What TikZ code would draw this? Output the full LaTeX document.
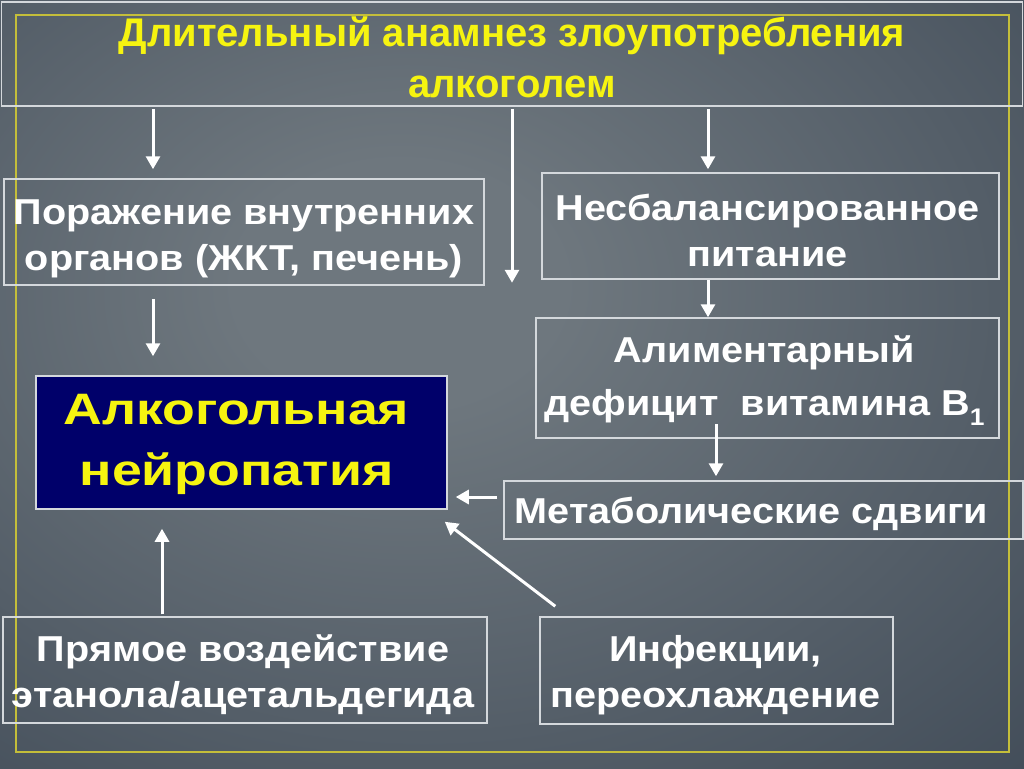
\documentclass[tikz,border=0pt]{standalone}
\usepackage{fontspec}
\setmainfont{Liberation Sans}
\newfontfamily\wfont{Liberation Sans}[FakeStretch=1.1]
\newfontfamily\tfont{Liberation Sans}[FakeStretch=1.0]
\newfontfamily\nfont{Liberation Sans}[FakeStretch=1.22]
\usetikzlibrary{arrows.meta}
\definecolor{bgc}{HTML}{6E777E}
\definecolor{bgm}{HTML}{3A4552}
\definecolor{bge}{HTML}{131D2B}
\definecolor{frameyel}{HTML}{C4BE3A}
\definecolor{boxline}{HTML}{D4D8DC}
\definecolor{titleyel}{HTML}{F6F410}
\definecolor{navy}{HTML}{00006A}
\pgfdeclareradialshading{bgshade}{\pgfpoint{-6bp}{7bp}}{color(0bp)=(bgc); color(8bp)=(bgc); color(48bp)=(bgm); color(74bp)=(bge); color(100bp)=(bge)}
\tikzset{
  wbox/.style={draw=boxline, line width=1.5pt, inner sep=0pt},
  wtext/.style={inner sep=0pt, align=center, text=white,
    font=\wfont\bfseries\fontsize{36}{46}\selectfont},
  arr/.style={draw=white, line width=3pt, -{Triangle[length=13pt,width=14pt]}},
}
\begin{document}
\begin{tikzpicture}[x=1pt,y=-1pt]
\useasboundingbox (0,0) rectangle (1024,768);
\shade[shading=bgshade] (0,0) rectangle (1024,768);
\draw[frameyel, line width=2pt] (16,15) rectangle (1009,752);

% boxes
\node[wbox, minimum width=1021pt, minimum height=104pt] (title) at (512,54) {};
\node[wbox, minimum width=480pt, minimum height=106pt] (porazh) at (244,232) {};
\node[wbox, minimum width=457pt, minimum height=106pt] (nesb) at (770.5,226) {};
\node[wbox, minimum width=463pt, minimum height=120pt] (alim) at (767.5,378) {};
\node[wbox, minimum width=519pt, minimum height=58pt] (metab) at (763.5,510) {};
\node[wbox, fill=navy, minimum width=411pt, minimum height=133pt] (neuro) at (241.5,442.5) {};
\node[wbox, minimum width=484pt, minimum height=106pt] (pryam) at (245,670) {};
\node[wbox, minimum width=353pt, minimum height=107pt] (infek) at (716.5,670.5) {};

% texts
\node[wtext, text=titleyel, font=\tfont\bfseries\fontsize{40}{51}\selectfont] (titleT)
  at ([shift={(0,3)}]title.center) {Длительный анамнез злоупотребления\\алкоголем};
\node[wtext] (porazhT) at ([shift={(0,6.5)}]porazh.center)
  {Поражение внутренних\\органов (ЖКТ, печень)};
\node[wtext] (nesbT) at ([shift={(-3,4)}]nesb.center)
  {Несбалансированное\\питание};
\node[wtext, font=\wfont\bfseries\fontsize{36}{52}\selectfont] (alimT) at ([shift={(-3,3)}]alim.center)
  {Алиментарный\\дефицит~ витамина B\raisebox{-0.3em}{\fontsize{24}{24}\selectfont 1}};
\node[wtext] (metabT) at ([shift={(-12,4)}]metab.center)
  {Метаболические сдвиги};
\node[wtext, text=titleyel, font=\nfont\bfseries\fontsize{44}{61}\selectfont] (neuroT)
  at ([shift={(-5,2)}]neuro.center) {Алкогольная\\нейропатия};
\node[wtext] (pryamT) at ([shift={(-2,5)}]pryam.center)
  {Прямое воздействие\\этанола/ацетальдегида};
\node[wtext] (infekT) at ([shift={(-1,5)}]infek.center)
  {Инфекции,\\переохлаждение};

\coordinate (xa) at (153,0);
\coordinate (xb) at (512,0);
\coordinate (xc) at (708,0);
\coordinate (xf) at (716,0);
\coordinate (xi) at (162,0);
\coordinate (yg) at (0,497);

\draw[arr, shorten <=2pt, shorten >=9pt] (title.south -| xa) -- (porazh.north -| xa);
\draw[arr, shorten <=2pt, shorten >=3pt] (title.south -| xb) -- (porazh.south -| xb);
\draw[arr, shorten <=2pt, shorten >=3pt] (title.south -| xc) -- (nesb.north -| xc);
\draw[arr, shorten <=13pt, shorten >=19pt] (porazh.south -| xa) -- (neuro.north -| xa);
\draw[arr] (nesb.south -| xc) -- (alim.north -| xc);
\draw[arr, shorten <=-15pt, shorten >=4pt] (alim.south -| xf) -- (metab.north -| xf);
\draw[arr, shorten <=6pt, shorten >=8pt] (metab.west |- yg) -- (neuro.east |- yg);
\draw[arr] ([shift={(16,-10)}]infek.north west) -- ([shift={(-3,12)}]neuro.south east);
\draw[arr, shorten <=2pt, shorten >=19pt] (pryam.north -| xi) -- (neuro.south -| xi);
\end{tikzpicture}
\end{document}
